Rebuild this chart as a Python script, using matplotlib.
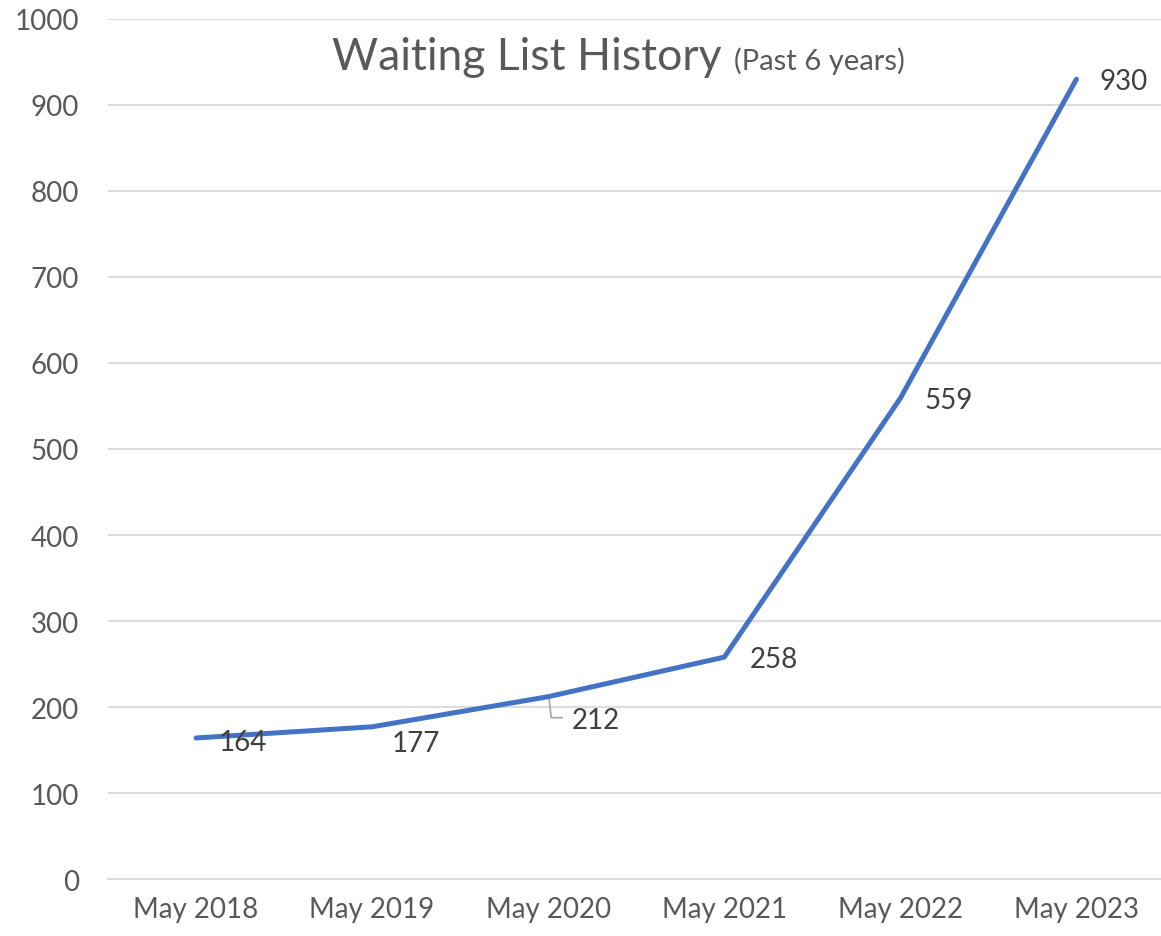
import matplotlib
matplotlib.use("Agg")
import matplotlib.pyplot as plt

categories = ["May 2018", "May 2019", "May 2020", "May 2021", "May 2022", "May 2023"]
values = [164, 177, 212, 258, 559, 930]
label_offsets_px = [(23, -4), (20, -16), (24, -23), (25, -2), (24, -2), (23, -2)]

plt.rcParams['font.family'] = ['Lato', 'DejaVu Sans']

DPI = 100
fig = plt.figure(figsize=(11.61, 9.37), dpi=DPI)
ax = fig.add_axes([0.093, 0.0608, 0.910, 0.9179])

x = list(range(len(categories)))
ax.plot(x, values, color='#4472C4', lw=3.6, solid_capstyle='round', solid_joinstyle='round', zorder=3)

ax.set_xlim(-0.5, len(categories) - 0.5)
ax.set_ylim(0, 1000)
ax.set_yticks(range(0, 1001, 100))
ax.set_xticks(x)
ax.set_xticklabels(categories)
ax.grid(axis='y', color='#D9D9D9', lw=1.3)
ax.set_axisbelow(True)
for s in ['top', 'right', 'left']:
    ax.spines[s].set_visible(False)
ax.spines['bottom'].set_color('#D9D9D9')
ax.spines['bottom'].set_linewidth(1.3)
ax.tick_params(axis='both', length=0, labelsize=20, colors='#595959')
ax.tick_params(axis='y', pad=21)
ax.tick_params(axis='x', pad=12)

for i, (v, off) in enumerate(zip(values, label_offsets_px)):
    ax.annotate(str(v), (i, v), xytext=off, textcoords='offset pixels',
                ha='left', va='center', fontsize=20, color='#404040', zorder=4)

# leader line for the 212 label
i = 2
pts_px = [(1, -3), (3, -21), (14, -21)]
base = ax.transData.transform((i, values[i]))
inv = ax.transData.inverted()
dpts = [inv.transform((base[0] + a, base[1] + b)) for a, b in pts_px]
ax.plot([p[0] for p in dpts], [p[1] for p in dpts], color='#A6A6A6', lw=1.2, zorder=2)

t1 = fig.text(332 / 1161, 1 - 70 / 937, "Waiting List History", fontsize=32, color='#595959',
              ha='left', va='baseline')
fig.canvas.draw()
bb = t1.get_window_extent(fig.canvas.get_renderer())
fig.text((bb.x1 + 12) / fig.bbox.width, 1 - 70 / 937, "(Past 6 years)", fontsize=21,
         color='#595959', ha='left', va='baseline')

fig.savefig("out.png", dpi=DPI)
